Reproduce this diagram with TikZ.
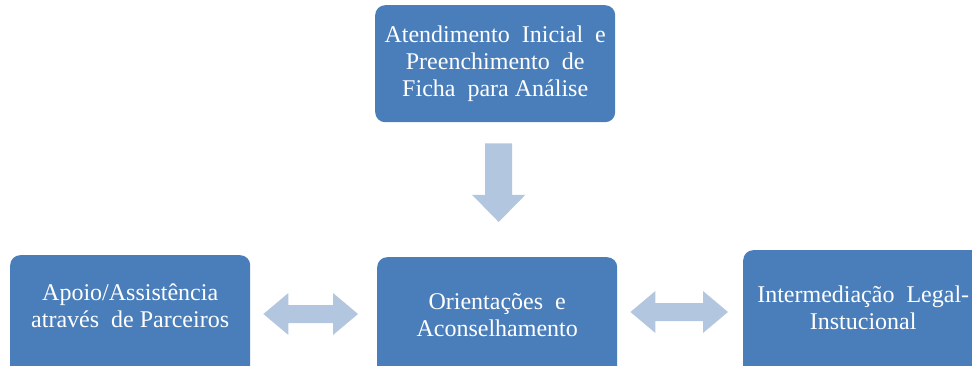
\documentclass[tikz,border=0pt]{standalone}
\usepackage{fontspec}
\setmainfont{Liberation Serif}
\usetikzlibrary{calc}
\definecolor{boxblue}{HTML}{4A7EBB}
\definecolor{arrowblue}{HTML}{B3C6E0}
\newcommand{\mydblarrow}[2]{%
  \fill[arrowblue] (#1) -- ($(#1)+(25,21)$) -- ($(#1)+(25,9)$) -- ($(#2)+(-25,9)$) -- ($(#2)+(-25,21)$) -- (#2)
    -- ($(#2)+(-25,-21)$) -- ($(#2)+(-25,-9)$) -- ($(#1)+(25,-9)$) -- ($(#1)+(25,-21)$) -- cycle;}
\begin{document}
\begin{tikzpicture}[x=1pt,y=1pt,
  box/.style={fill=boxblue, rounded corners=10pt, draw=none, inner sep=0pt, minimum width=240pt},
  txt/.style={text=white, font=\fontsize{24}{27}\selectfont, align=center, inner sep=0pt},
  ]
\useasboundingbox (0,0) rectangle (972,-366);
\clip (0,0) rectangle (972,-366);
% boxes
\node[box, minimum height=117pt, anchor=north west] (atend) at (375,-5) {};
\node[box, minimum height=140pt, anchor=north west] (orient) at (377,-257) {};
\node[box, minimum height=140pt, anchor=north west] (apoio) at (10,-255) {};
\node[box, minimum height=140pt, anchor=north west] (interm) at (743,-250) {};
% texts
\node[txt] (atendt) at (atend.center) {Atendimento\ \ Inicial\ \ e\\Preenchimento\ \ de\\Ficha\ \ para Análise};
\node[txt] (orientt) at ($(orient.north)+(0,-58)$) {Orientações\ \ e\\Aconselhamento};
\node[txt] (apoiot) at ($(apoio.north)+(0,-51)$) {Apoio/Assistência\\através\ \ de Parceiros};
\node[txt] (intermt) at ($(interm.north)+(0,-58)$) {Intermediação\ \ Legal-\\Instucional};
% down arrow
\coordinate (dtop) at ($(atend.south)+(3.5,-21)$);
\coordinate (dtip) at ($(dtop |- orient.north)+(0,35)$);
\fill[arrowblue] ($(dtop)+(-13.5,0)$) -- ($(dtop)+(13.5,0)$) -- ($(dtip)+(13.5,27)$) -- ($(dtip)+(26.5,27)$) -- (dtip)
  -- ($(dtip)+(-26.5,27)$) -- ($(dtip)+(-13.5,27)$) -- cycle;
% double arrows
\coordinate (l1) at ($(apoio.north east)+(13,-59)$);
\coordinate (l2) at ($(orient.north west)+(-19,-57)$);
\mydblarrow{l1}{l2}
\coordinate (r1) at ($(orient.north east)+(13,-55)$);
\coordinate (r2) at ($(interm.north west)+(-15,-62)$);
\mydblarrow{r1}{r2}
\end{tikzpicture}
\end{document}
